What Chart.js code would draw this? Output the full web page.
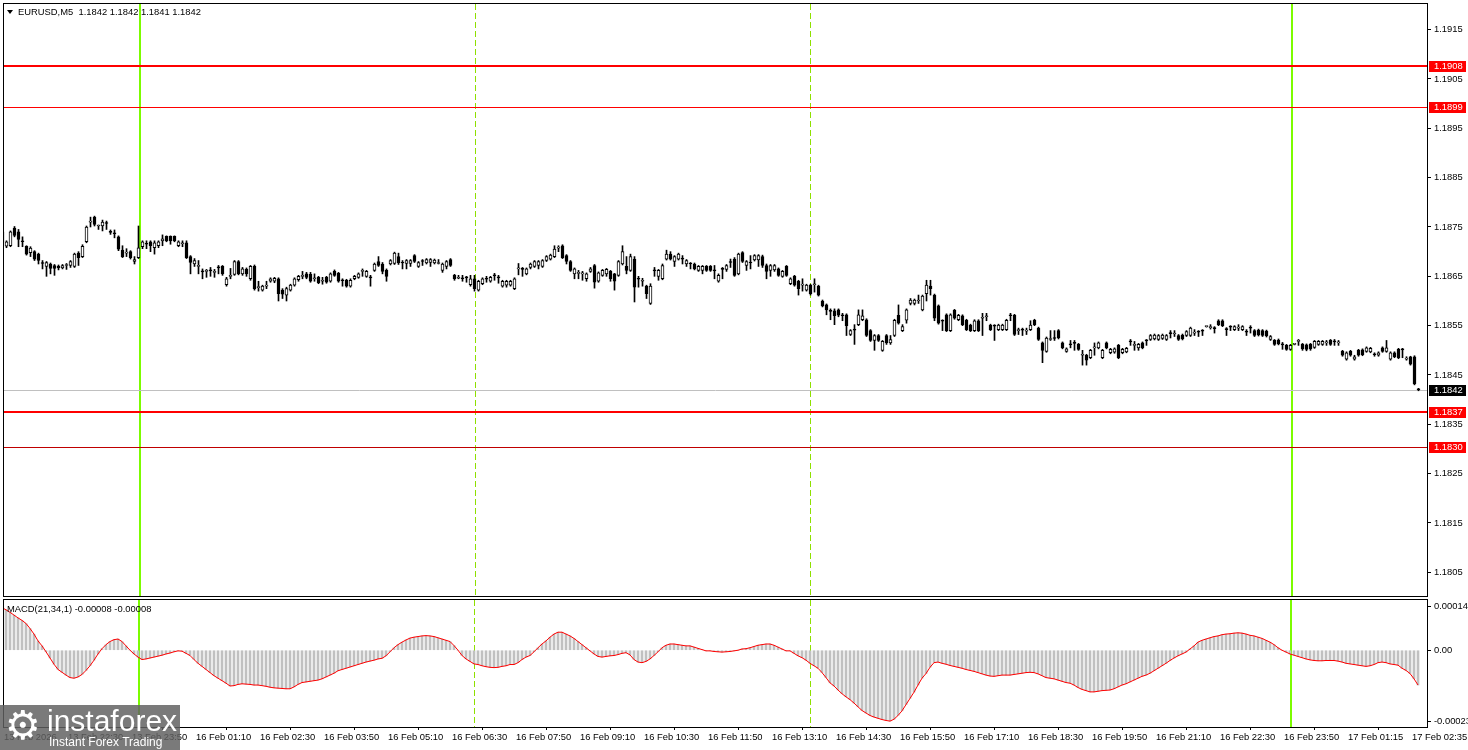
<!DOCTYPE html>
<html>
<head>
<meta charset="utf-8">
<title>EURUSD M5</title>
<script src="https://cdn.jsdelivr.net/npm/chart.js@4.4.1/dist/chart.umd.min.js"></script>
<style>
  html, body { margin: 0; padding: 0; background: #fff; width: 1468px; height: 750px; overflow: hidden; }
  canvas { position: absolute; left: 0; }
  #main { top: 0; }
  #macd { top: 598px; }
  #logo { position: absolute; left: 0; top: 705px; width: 180px; height: 45px; background: rgba(96,96,96,0.84); color: #fff; font-family: "Liberation Sans", Arial, sans-serif; z-index: 5; }
  #logo .gear { position: absolute; left: 5px; top: -6px; font-family: "DejaVu Sans", sans-serif; font-size: 40px; line-height: 52px; }
  #logo .brand { position: absolute; left: 47px; top: 0px; font-size: 30px; line-height: 32px; }
  #logo .tag { position: absolute; left: 49px; top: 31px; font-size: 12px; line-height: 13px; }
</style>
</head>
<body>
<canvas id="main" width="1468" height="600" style="width:1468px;height:600px"></canvas>
<canvas id="macd" width="1468" height="152" style="width:1468px;height:152px"></canvas>
<div id="logo"><span class="gear">⚙</span><span class="brand">instaforex</span><span class="tag">Instant Forex Trading</span></div>
<script>
// EURUSD M5 candles, [open, high, low, close]
const ohlc = [
  [1.18740,1.18745,1.18715,1.18720],[1.18711,1.18722,1.18708,1.18720],[1.18712,1.18742,1.18710,1.18740],[1.18748,1.18751,1.18730,1.18733],[1.18740,1.18745,1.18710,1.18725],
  [1.18722,1.18730,1.18710,1.18720],[1.18711,1.18712,1.18693,1.18695],[1.18698,1.18710,1.18690,1.18707],[1.18700,1.18702,1.18682,1.18685],[1.18695,1.18697,1.18675,1.18682],
  [1.18677,1.18682,1.18665,1.18676],[1.18670,1.18680,1.18650,1.18678],[1.18675,1.18677,1.18655,1.18666],[1.18672,1.18674,1.18652,1.18666],[1.18671,1.18673,1.18663,1.18667],
  [1.18667,1.18674,1.18665,1.18672],[1.18672,1.18676,1.18664,1.18672],[1.18672,1.18682,1.18668,1.18680],[1.18670,1.18697,1.18668,1.18695],[1.18697,1.18700,1.18672,1.18688],
  [1.18690,1.18714,1.18688,1.18711],[1.18720,1.18752,1.18718,1.18750],[1.18760,1.18770,1.18750,1.18762],[1.18770,1.18772,1.18752,1.18755],[1.18752,1.18754,1.18745,1.18753],
  [1.18752,1.18764,1.18742,1.18760],[1.18758,1.18762,1.18745,1.18757],[1.18740,1.18744,1.18735,1.18739],[1.18738,1.18744,1.18728,1.18736],[1.18730,1.18732,1.18702,1.18705],
  [1.18703,1.18712,1.18688,1.18690],[1.18697,1.18706,1.18690,1.18698],[1.18700,1.18702,1.18685,1.18688],[1.18680,1.18690,1.18675,1.18684],[1.18688,1.18752,1.18686,1.18708],
  [1.18710,1.18722,1.18706,1.18720],[1.18717,1.18722,1.18706,1.18715],[1.18720,1.18722,1.18700,1.18712],[1.18708,1.18722,1.18695,1.18718],[1.18712,1.18722,1.18708,1.18720],
  [1.18722,1.18734,1.18712,1.18726],[1.18731,1.18732,1.18720,1.18722],[1.18731,1.18732,1.18715,1.18722],[1.18731,1.18732,1.18720,1.18722],[1.18712,1.18722,1.18710,1.18720],
  [1.18716,1.18722,1.18710,1.18717],[1.18718,1.18722,1.18686,1.18688],[1.18690,1.18692,1.18655,1.18678],[1.18675,1.18686,1.18670,1.18682],[1.18670,1.18682,1.18655,1.18671],
  [1.18660,1.18665,1.18645,1.18659],[1.18660,1.18664,1.18648,1.18661],[1.18662,1.18668,1.18650,1.18661],[1.18658,1.18664,1.18648,1.18660],[1.18668,1.18672,1.18655,1.18667],
  [1.18670,1.18672,1.18652,1.18655],[1.18633,1.18648,1.18630,1.18645],[1.18650,1.18666,1.18645,1.18652],[1.18654,1.18682,1.18652,1.18680],[1.18680,1.18682,1.18653,1.18655],
  [1.18655,1.18668,1.18652,1.18665],[1.18664,1.18667,1.18650,1.18655],[1.18645,1.18672,1.18642,1.18670],[1.18670,1.18673,1.18622,1.18625],[1.18627,1.18640,1.18620,1.18628],
  [1.18622,1.18632,1.18620,1.18630],[1.18630,1.18640,1.18625,1.18632],[1.18640,1.18647,1.18638,1.18645],[1.18640,1.18648,1.18637,1.18646],[1.18645,1.18647,1.18600,1.18615],
  [1.18622,1.18625,1.18605,1.18614],[1.18612,1.18628,1.18600,1.18625],[1.18622,1.18634,1.18620,1.18632],[1.18632,1.18647,1.18630,1.18645],[1.18643,1.18652,1.18640,1.18650],
  [1.18650,1.18660,1.18645,1.18652],[1.18655,1.18658,1.18645,1.18648],[1.18654,1.18658,1.18638,1.18640],[1.18645,1.18655,1.18640,1.18646],[1.18648,1.18650,1.18635,1.18637],
  [1.18640,1.18648,1.18634,1.18641],[1.18648,1.18650,1.18636,1.18638],[1.18640,1.18657,1.18638,1.18655],[1.18660,1.18663,1.18650,1.18652],[1.18656,1.18658,1.18638,1.18640],
  [1.18642,1.18645,1.18630,1.18641],[1.18642,1.18644,1.18628,1.18630],[1.18630,1.18645,1.18628,1.18642],[1.18645,1.18652,1.18643,1.18650],[1.18648,1.18657,1.18646,1.18655],
  [1.18660,1.18665,1.18650,1.18660],[1.18650,1.18662,1.18648,1.18660],[1.18648,1.18652,1.18630,1.18647],[1.18662,1.18677,1.18660,1.18675],[1.18680,1.18690,1.18670,1.18672],
  [1.18675,1.18678,1.18655,1.18660],[1.18662,1.18665,1.18640,1.18650],[1.18675,1.18684,1.18673,1.18682],[1.18676,1.18699,1.18674,1.18697],[1.18690,1.18697,1.18674,1.18677],
  [1.18678,1.18682,1.18665,1.18677],[1.18676,1.18684,1.18665,1.18682],[1.18676,1.18684,1.18670,1.18682],[1.18692,1.18694,1.18678,1.18680],[1.18670,1.18680,1.18668,1.18678],
  [1.18681,1.18684,1.18672,1.18680],[1.18677,1.18686,1.18675,1.18684],[1.18678,1.18686,1.18670,1.18684],[1.18677,1.18685,1.18675,1.18683],[1.18676,1.18684,1.18675,1.18677],
  [1.18662,1.18677,1.18658,1.18675],[1.18670,1.18682,1.18665,1.18680],[1.18684,1.18686,1.18670,1.18672],[1.18652,1.18654,1.18642,1.18645],[1.18646,1.18652,1.18645,1.18647],
  [1.18646,1.18652,1.18640,1.18645],[1.18648,1.18650,1.18638,1.18647],[1.18633,1.18652,1.18630,1.18645],[1.18645,1.18652,1.18620,1.18625],[1.18622,1.18642,1.18620,1.18640],
  [1.18635,1.18647,1.18633,1.18645],[1.18645,1.18650,1.18638,1.18644],[1.18640,1.18650,1.18638,1.18648],[1.18652,1.18656,1.18642,1.18651],[1.18648,1.18652,1.18636,1.18647],
  [1.18630,1.18642,1.18628,1.18640],[1.18632,1.18642,1.18628,1.18640],[1.18632,1.18642,1.18630,1.18640],[1.18625,1.18647,1.18623,1.18645],[1.18665,1.18676,1.18653,1.18666],
  [1.18665,1.18668,1.18650,1.18664],[1.18655,1.18667,1.18653,1.18665],[1.18668,1.18677,1.18665,1.18675],[1.18670,1.18682,1.18668,1.18680],[1.18672,1.18682,1.18665,1.18680],
  [1.18670,1.18684,1.18668,1.18682],[1.18682,1.18692,1.18680,1.18690],[1.18685,1.18695,1.18683,1.18693],[1.18690,1.18712,1.18688,1.18705],[1.18707,1.18712,1.18700,1.18708],
  [1.18712,1.18714,1.18686,1.18688],[1.18692,1.18694,1.18675,1.18680],[1.18680,1.18682,1.18660,1.18662],[1.18655,1.18667,1.18645,1.18665],[1.18656,1.18662,1.18645,1.18657],
  [1.18655,1.18660,1.18642,1.18656],[1.18645,1.18657,1.18640,1.18655],[1.18660,1.18668,1.18658,1.18665],[1.18672,1.18674,1.18626,1.18638],[1.18640,1.18659,1.18638,1.18657],
  [1.18652,1.18664,1.18650,1.18662],[1.18655,1.18666,1.18650,1.18664],[1.18660,1.18662,1.18640,1.18645],[1.18655,1.18656,1.18622,1.18640],[1.18652,1.18682,1.18650,1.18680],
  [1.18675,1.18712,1.18673,1.18700],[1.18670,1.18690,1.18655,1.18662],[1.18662,1.18695,1.18660,1.18690],[1.18685,1.18690,1.18598,1.18628],[1.18645,1.18650,1.18628,1.18644],
  [1.18640,1.18646,1.18630,1.18642],[1.18630,1.18632,1.18605,1.18615],[1.18595,1.18635,1.18593,1.18630],[1.18662,1.18668,1.18650,1.18661],[1.18650,1.18664,1.18642,1.18662],
  [1.18645,1.18675,1.18643,1.18672],[1.18685,1.18703,1.18683,1.18695],[1.18695,1.18700,1.18683,1.18685],[1.18680,1.18692,1.18670,1.18690],[1.18685,1.18697,1.18683,1.18695],
  [1.18686,1.18692,1.18675,1.18685],[1.18675,1.18684,1.18670,1.18682],[1.18676,1.18678,1.18665,1.18675],[1.18675,1.18677,1.18663,1.18665],[1.18662,1.18672,1.18660,1.18670],
  [1.18662,1.18672,1.18655,1.18670],[1.18670,1.18672,1.18660,1.18662],[1.18670,1.18672,1.18660,1.18662],[1.18662,1.18672,1.18645,1.18661],[1.18640,1.18655,1.18638,1.18652],
  [1.18665,1.18668,1.18645,1.18664],[1.18664,1.18674,1.18660,1.18672],[1.18680,1.18685,1.18668,1.18678],[1.18685,1.18688,1.18650,1.18652],[1.18655,1.18697,1.18653,1.18695],
  [1.18698,1.18700,1.18678,1.18680],[1.18672,1.18682,1.18662,1.18680],[1.18678,1.18692,1.18665,1.18677],[1.18683,1.18694,1.18681,1.18692],[1.18683,1.18694,1.18670,1.18692],
  [1.18690,1.18693,1.18668,1.18672],[1.18672,1.18675,1.18645,1.18660],[1.18662,1.18674,1.18650,1.18672],[1.18663,1.18674,1.18660,1.18672],[1.18665,1.18667,1.18650,1.18652],
  [1.18650,1.18662,1.18648,1.18660],[1.18670,1.18672,1.18650,1.18652],[1.18635,1.18647,1.18633,1.18645],[1.18650,1.18652,1.18630,1.18632],[1.18640,1.18642,1.18612,1.18625],
  [1.18632,1.18645,1.18620,1.18634],[1.18622,1.18634,1.18620,1.18632],[1.18632,1.18634,1.18612,1.18615],[1.18633,1.18645,1.18618,1.18635],[1.18630,1.18632,1.18610,1.18612],
  [1.18600,1.18602,1.18588,1.18590],[1.18592,1.18594,1.18572,1.18582],[1.18580,1.18584,1.18562,1.18579],[1.18580,1.18584,1.18552,1.18570],[1.18582,1.18584,1.18568,1.18571],
  [1.18571,1.18575,1.18560,1.18570],[1.18572,1.18574,1.18530,1.18550],[1.18532,1.18542,1.18530,1.18540],[1.18542,1.18552,1.18512,1.18541],[1.18552,1.18582,1.18550,1.18572],
  [1.18562,1.18582,1.18560,1.18570],[1.18562,1.18564,1.18528,1.18530],[1.18540,1.18542,1.18518,1.18520],[1.18520,1.18532,1.18500,1.18530],[1.18530,1.18532,1.18518,1.18520],
  [1.18500,1.18520,1.18498,1.18518],[1.18530,1.18532,1.18512,1.18515],[1.18515,1.18530,1.18512,1.18522],[1.18530,1.18563,1.18528,1.18561],[1.18571,1.18592,1.18553,1.18555],
  [1.18540,1.18552,1.18538,1.18548],[1.18561,1.18584,1.18555,1.18582],[1.18595,1.18605,1.18592,1.18602],[1.18595,1.18604,1.18592,1.18602],[1.18600,1.18612,1.18595,1.18602],
  [1.18582,1.18612,1.18580,1.18610],[1.18615,1.18642,1.18600,1.18632],[1.18630,1.18642,1.18612,1.18625],[1.18612,1.18614,1.18560,1.18565],[1.18590,1.18592,1.18553,1.18555],
  [1.18560,1.18562,1.18540,1.18559],[1.18572,1.18574,1.18538,1.18540],[1.18540,1.18574,1.18538,1.18572],[1.18581,1.18583,1.18563,1.18565],[1.18562,1.18573,1.18560,1.18571],
  [1.18570,1.18572,1.18550,1.18552],[1.18561,1.18563,1.18540,1.18542],[1.18551,1.18553,1.18538,1.18540],[1.18540,1.18562,1.18538,1.18560],[1.18560,1.18562,1.18538,1.18540],
  [1.18565,1.18575,1.18530,1.18566],[1.18568,1.18575,1.18560,1.18570],[1.18551,1.18553,1.18540,1.18542],[1.18550,1.18552,1.18520,1.18549],[1.18542,1.18553,1.18540,1.18551],
  [1.18542,1.18553,1.18540,1.18551],[1.18542,1.18563,1.18540,1.18561],[1.18571,1.18575,1.18560,1.18570],[1.18571,1.18573,1.18530,1.18532],[1.18540,1.18545,1.18532,1.18542],
  [1.18542,1.18545,1.18530,1.18541],[1.18539,1.18545,1.18532,1.18541],[1.18542,1.18560,1.18540,1.18551],[1.18561,1.18563,1.18550,1.18552],[1.18545,1.18547,1.18520,1.18522],
  [1.18515,1.18517,1.18475,1.18500],[1.18498,1.18527,1.18496,1.18525],[1.18522,1.18540,1.18520,1.18524],[1.18525,1.18540,1.18520,1.18524],[1.18540,1.18542,1.18523,1.18525],
  [1.18515,1.18517,1.18503,1.18505],[1.18498,1.18505,1.18496,1.18503],[1.18512,1.18520,1.18505,1.18511],[1.18515,1.18520,1.18500,1.18514],[1.18512,1.18514,1.18500,1.18502],
  [1.18490,1.18500,1.18470,1.18491],[1.18490,1.18492,1.18470,1.18480],[1.18485,1.18502,1.18483,1.18500],[1.18505,1.18515,1.18490,1.18507],[1.18505,1.18517,1.18503,1.18515],
  [1.18485,1.18502,1.18483,1.18500],[1.18515,1.18517,1.18503,1.18505],[1.18495,1.18504,1.18493,1.18502],[1.18496,1.18505,1.18494,1.18503],[1.18510,1.18512,1.18483,1.18485],
  [1.18495,1.18504,1.18493,1.18502],[1.18497,1.18506,1.18495,1.18504],[1.18518,1.18522,1.18510,1.18517],[1.18510,1.18518,1.18500,1.18512],[1.18505,1.18514,1.18500,1.18512],
  [1.18515,1.18517,1.18503,1.18505],[1.18520,1.18522,1.18510,1.18519],[1.18522,1.18532,1.18520,1.18530],[1.18523,1.18533,1.18521,1.18531],[1.18522,1.18532,1.18520,1.18530],
  [1.18524,1.18533,1.18522,1.18531],[1.18522,1.18532,1.18520,1.18530],[1.18535,1.18540,1.18525,1.18534],[1.18533,1.18540,1.18528,1.18535],[1.18530,1.18532,1.18520,1.18522],
  [1.18531,1.18533,1.18521,1.18523],[1.18530,1.18540,1.18528,1.18538],[1.18530,1.18547,1.18528,1.18545],[1.18535,1.18542,1.18530,1.18537],[1.18538,1.18540,1.18528,1.18537],
  [1.18540,1.18542,1.18530,1.18539],[1.18548,1.18549,1.18547,1.18548],[1.18546,1.18552,1.18543,1.18548],[1.18545,1.18548,1.18535,1.18544],[1.18560,1.18562,1.18550,1.18552],
  [1.18560,1.18562,1.18548,1.18550],[1.18543,1.18546,1.18530,1.18542],[1.18548,1.18550,1.18540,1.18547],[1.18542,1.18550,1.18540,1.18548],[1.18545,1.18552,1.18540,1.18547],
  [1.18542,1.18550,1.18540,1.18548],[1.18538,1.18542,1.18530,1.18537],[1.18546,1.18550,1.18535,1.18545],[1.18540,1.18542,1.18528,1.18530],[1.18541,1.18543,1.18529,1.18531],
  [1.18540,1.18542,1.18528,1.18530],[1.18539,1.18541,1.18527,1.18529],[1.18522,1.18530,1.18520,1.18528],[1.18520,1.18522,1.18510,1.18512],[1.18521,1.18523,1.18511,1.18513],
  [1.18512,1.18516,1.18502,1.18511],[1.18510,1.18512,1.18500,1.18502],[1.18502,1.18512,1.18500,1.18510],[1.18512,1.18513,1.18511,1.18512],[1.18518,1.18522,1.18510,1.18520],
  [1.18512,1.18514,1.18500,1.18503],[1.18511,1.18513,1.18499,1.18502],[1.18512,1.18514,1.18500,1.18503],[1.18506,1.18520,1.18504,1.18518],[1.18512,1.18520,1.18510,1.18518],
  [1.18512,1.18520,1.18510,1.18518],[1.18515,1.18520,1.18510,1.18517],[1.18520,1.18522,1.18510,1.18512],[1.18518,1.18522,1.18510,1.18517],[1.18515,1.18520,1.18510,1.18517],
  [1.18498,1.18500,1.18488,1.18490],[1.18482,1.18497,1.18480,1.18495],[1.18498,1.18500,1.18488,1.18490],[1.18482,1.18490,1.18480,1.18487],[1.18500,1.18502,1.18488,1.18490],
  [1.18501,1.18503,1.18489,1.18491],[1.18498,1.18507,1.18496,1.18505],[1.18497,1.18506,1.18495,1.18504],[1.18492,1.18495,1.18488,1.18491],[1.18490,1.18497,1.18488,1.18495],
  [1.18505,1.18507,1.18496,1.18498],[1.18498,1.18520,1.18496,1.18505],[1.18482,1.18497,1.18480,1.18495],[1.18495,1.18497,1.18485,1.18487],[1.18502,1.18504,1.18483,1.18485],
  [1.18502,1.18504,1.18485,1.18501],[1.18482,1.18487,1.18480,1.18484],[1.18487,1.18488,1.18470,1.18472],[1.18487,1.18489,1.18430,1.18432],[1.18421,1.18423,1.18418,1.18420]
];

// MACD(21,34,1) main line; with signal period 1 the signal equals the main line
const macdMain = [
  137e-6,130e-6,122e-6,113e-6,104e-6,96e-6,86e-6,70e-6,52e-6,30e-6,
  14e-6,-5e-6,-25e-6,-45e-6,-62e-6,-71e-6,-80e-6,-88e-6,-90e-6,-86e-6,
  -78e-6,-65e-6,-50e-6,-32e-6,-12e-6,5e-6,18e-6,28e-6,34e-6,36e-6,
  28e-6,14e-6,0,-12e-6,-22e-6,-30e-6,-28e-6,-25e-6,-22e-6,-19e-6,
  -16e-6,-12e-6,-9e-6,-5e-6,-2e-6,-3e-6,-10e-6,-17e-6,-30e-6,-42e-6,
  -52e-6,-62e-6,-72e-6,-82e-6,-90e-6,-98e-6,-106e-6,-115e-6,-114e-6,-110e-6,
  -108e-6,-109e-6,-110e-6,-112e-6,-112e-6,-114e-6,-116e-6,-119e-6,-121e-6,-122e-6,
  -123e-6,-124e-6,-124e-6,-118e-6,-110e-6,-104e-6,-102e-6,-100e-6,-98e-6,-96e-6,
  -92e-6,-86e-6,-80e-6,-74e-6,-66e-6,-62e-6,-58e-6,-54e-6,-50e-6,-46e-6,
  -42e-6,-38e-6,-35e-6,-32e-6,-28e-6,-26e-6,-18e-6,-5e-6,8e-6,18e-6,
  26e-6,33e-6,39e-6,42e-6,44e-6,46e-6,47e-6,46e-6,44e-6,40e-6,
  36e-6,32e-6,28e-6,15e-6,0,-17e-6,-28e-6,-36e-6,-44e-6,-46e-6,
  -50e-6,-53e-6,-55e-6,-56e-6,-55e-6,-52e-6,-50e-6,-46e-6,-46e-6,-40e-6,
  -30e-6,-22e-6,-17e-6,-5e-6,8e-6,20e-6,30e-6,42e-6,52e-6,58e-6,
  58e-6,52e-6,46e-6,38e-6,28e-6,18e-6,8e-6,-2e-6,-12e-6,-20e-6,
  -22e-6,-20e-6,-18e-6,-17e-6,-14e-6,-10e-6,-8e-6,-15e-6,-30e-6,-38e-6,
  -40e-6,-36e-6,-28e-6,-17e-6,-5e-6,8e-6,16e-6,20e-6,20e-6,18e-6,
  16e-6,14e-6,14e-6,10e-6,6e-6,2e-6,-2e-6,-2e-6,-4e-6,-5e-6,
  -6e-6,-5e-6,-4e-6,-2e-6,0,4e-6,5e-6,8e-6,12e-6,16e-6,
  18e-6,20e-6,20e-6,16e-6,10e-6,4e-6,-2e-6,-2e-6,-10e-6,-18e-6,
  -24e-6,-32e-6,-42e-6,-50e-6,-58e-6,-72e-6,-88e-6,-105e-6,-115e-6,-128e-6,
  -140e-6,-150e-6,-159e-6,-170e-6,-182e-6,-194e-6,-202e-6,-210e-6,-215e-6,-219e-6,
  -223e-6,-226e-6,-228e-6,-222e-6,-210e-6,-195e-6,-175e-6,-155e-6,-135e-6,-112e-6,
  -90e-6,-75e-6,-55e-6,-40e-6,-38e-6,-42e-6,-45e-6,-49e-6,-52e-6,-55e-6,
  -58e-6,-62e-6,-65e-6,-68e-6,-72e-6,-76e-6,-80e-6,-83e-6,-84e-6,-82e-6,
  -80e-6,-80e-6,-80e-6,-78e-6,-76e-6,-74e-6,-72e-6,-71e-6,-72e-6,-76e-6,
  -82e-6,-88e-6,-90e-6,-92e-6,-96e-6,-100e-6,-104e-6,-106e-6,-112e-6,-120e-6,
  -126e-6,-130e-6,-134e-6,-134e-6,-132e-6,-130e-6,-129e-6,-128e-6,-124e-6,-118e-6,
  -112e-6,-108e-6,-102e-6,-96e-6,-90e-6,-84e-6,-80e-6,-74e-6,-66e-6,-58e-6,
  -50e-6,-42e-6,-33e-6,-25e-6,-18e-6,-12e-6,-6e-6,4e-6,14e-6,26e-6,
  32e-6,36e-6,40e-6,44e-6,46e-6,50e-6,52e-6,53e-6,55e-6,56e-6,
  55e-6,52e-6,48e-6,46e-6,42e-6,38e-6,32e-6,26e-6,18e-6,8e-6,
  0,-6e-6,-12e-6,-16e-6,-20e-6,-24e-6,-28e-6,-31e-6,-33e-6,-34e-6,
  -34e-6,-33e-6,-33e-6,-33e-6,-35e-6,-38e-6,-42e-6,-44e-6,-46e-6,-48e-6,
  -50e-6,-52e-6,-50e-6,-46e-6,-40e-6,-38e-6,-40e-6,-44e-6,-46e-6,-48e-6,
  -58e-6,-65e-6,-75e-6,-92e-6,-112e-6
];

// time axis labels, one every 16 bars
const timeLabels = ['13 Feb 2026', '13 Feb 22:30', '13 Feb 23:50', '16 Feb 01:10', '16 Feb 02:30', '16 Feb 03:50',
  '16 Feb 05:10', '16 Feb 06:30', '16 Feb 07:50', '16 Feb 09:10', '16 Feb 10:30', '16 Feb 11:50', '16 Feb 13:10',
  '16 Feb 14:30', '16 Feb 15:50', '16 Feb 17:10', '16 Feb 18:30', '16 Feb 19:50', '16 Feb 21:10', '16 Feb 22:30',
  '16 Feb 23:50', '17 Feb 01:15', '17 Feb 02:35'];
const priceTicks = [1.1805, 1.1815, 1.1825, 1.1835, 1.1845, 1.1855, 1.1865, 1.1875, 1.1885, 1.1895, 1.1905, 1.1915];
const macdTicks = [0.00014, 0, -0.00023];

// horizontal levels (labels show 4 digits) and the last bid
const levels = [1.19077, 1.18994, 1.18374, 1.18304];
const lastPrice = 1.1842;
// bars where a new day starts and session marks
const dayStarts = [34, 322];
const sessionMarks = [118, 202];

const titleText = 'EURUSD,M5  1.1842 1.1842 1.1841 1.1842';
const macdText = 'MACD(21,34,1) -0.00008 -0.00008';

const FONT = '"Liberation Sans", Arial, sans-serif';
const FSIZE = 9.4;
Chart.defaults.font.family = FONT;
Chart.defaults.font.size = FSIZE;
Chart.defaults.color = '#000';
Chart.defaults.animation = false;

const levelStyle = [
  { color: '#ff0000', width: 2 },
  { color: '#ff0000', width: 1 },
  { color: '#ff0000', width: 2 },
  { color: '#c00000', width: 1 }
];

// vertical day / session lines and panel frame, used by both panels
const panelPlugin = {
  id: 'panel',
  beforeDatasetsDraw(chart) {
    const { ctx, chartArea: a, scales: { x } } = chart;
    ctx.save();
    ctx.lineWidth = 1;
    ctx.strokeStyle = '#8ee000';
    ctx.setLineDash([6, 3]);
    sessionMarks.forEach(b => {
      const px = Math.round(x.getPixelForValue(b)) + 0.5;
      ctx.beginPath(); ctx.moveTo(px, a.top); ctx.lineTo(px, a.bottom); ctx.stroke();
    });
    ctx.setLineDash([]);
    ctx.fillStyle = '#7cfc00';
    dayStarts.forEach(b => {
      const px = Math.round(x.getPixelForValue(b));
      ctx.fillRect(px, a.top, 2, a.bottom - a.top);
    });
    ctx.restore();
  },
  afterDraw(chart) {
    const { ctx, chartArea: a } = chart;
    ctx.save();
    ctx.strokeStyle = '#000';
    ctx.lineWidth = 1;
    ctx.strokeRect(a.left - 0.5, a.top - 0.5, a.right - a.left + 1, a.bottom - a.top + 1);
    ctx.restore();
  }
};

const mainExtras = {
  id: 'mainExtras',
  beforeDatasetsDraw(chart) {
    const { ctx, chartArea: a, scales: { y } } = chart;
    ctx.save();
    const py = Math.round(y.getPixelForValue(lastPrice)) + 0.5;
    ctx.strokeStyle = '#c0c0c0';
    ctx.lineWidth = 1;
    ctx.beginPath(); ctx.moveTo(a.left, py); ctx.lineTo(a.right, py); ctx.stroke();
    levels.forEach((lv, k) => {
      const st = levelStyle[k];
      const yy = Math.round(y.getPixelForValue(lv));
      ctx.fillStyle = st.color;
      ctx.fillRect(a.left, yy - (st.width > 1 ? 1 : 0), a.right - a.left, st.width);
    });
    ctx.restore();
  },
  afterDraw(chart) {
    const { ctx, chartArea: a, scales: { y } } = chart;
    ctx.save();
    ctx.font = FSIZE + 'px ' + FONT;
    ctx.textBaseline = 'middle';
    const box = (v, bg) => {
      const yy = Math.round(y.getPixelForValue(v));
      ctx.fillStyle = bg;
      ctx.fillRect(a.right + 2, yy - 5, 37, 11);
      ctx.fillStyle = '#fff';
      ctx.fillText(v.toFixed(4), a.right + 7, yy + 0.5);
    };
    levels.forEach(lv => box(lv, '#ff0000'));
    box(lastPrice, '#000');
    // symbol caption
    ctx.fillStyle = '#000';
    ctx.beginPath();
    ctx.moveTo(a.left + 3, a.top + 6); ctx.lineTo(a.left + 9, a.top + 6); ctx.lineTo(a.left + 6, a.top + 10);
    ctx.closePath(); ctx.fill();
    ctx.fillText(titleText, a.left + 14, a.top + 8);
    ctx.restore();
  }
};

const macdExtras = {
  id: 'macdExtras',
  afterDraw(chart) {
    const { ctx, chartArea: a } = chart;
    ctx.save();
    ctx.font = FSIZE + 'px ' + FONT;
    ctx.textBaseline = 'middle';
    ctx.fillStyle = '#000';
    ctx.fillText(macdText, a.left + 3, a.top + 9);
    ctx.restore();
  }
};

const barSpan = 355.75; // bars that fit across the plot at 4 px per bar

new Chart(document.getElementById('main'), {
  type: 'bar',
  data: {
    datasets: [
      {
        label: 'wicks',
        data: ohlc.map((c, i) => ({ x: i, y: [c[2], c[1]] })),
        backgroundColor: '#000',
        barThickness: 1,
        grouped: false,
        minBarLength: 1,
        order: 2
      },
      {
        label: 'bodies',
        data: ohlc.map((c, i) => ({ x: i, y: [c[0], c[3]] })),
        backgroundColor: ohlc.map(c => (c[3] >= c[0] ? '#fff' : '#000')),
        borderColor: '#000',
        borderWidth: 1,
        borderSkipped: false,
        barThickness: 3,
        grouped: false,
        minBarLength: 1,
        order: 1
      }
    ]
  },
  options: {
    responsive: false,
    animation: false,
    devicePixelRatio: 1,
    layout: { padding: { left: 4, top: 4, bottom: 4, right: 0 } },
    plugins: { legend: { display: false }, tooltip: { enabled: false } },
    scales: {
      x: { type: 'linear', offset: false, min: 0.375, max: 0.375 + barSpan, display: false },
      y: {
        position: 'right',
        min: 1.18002,
        max: 1.19202,
        afterBuildTicks: s => { s.ticks = priceTicks.map(v => ({ value: v })); },
        afterFit: s => { s.width = 41; s.paddingTop = 0; s.paddingBottom = 0; },
        ticks: { padding: 3, color: '#000', callback: v => v.toFixed(4) },
        grid: { drawOnChartArea: false, tickLength: 4, tickColor: '#000' },
        border: { display: false }
      }
    }
  },
  plugins: [panelPlugin, mainExtras]
});

new Chart(document.getElementById('macd'), {
  type: 'bar',
  data: {
    datasets: [
      {
        type: 'line',
        label: 'signal',
        data: macdMain.map((v, i) => ({ x: i, y: v })),
        borderColor: '#ff0000',
        borderWidth: 1,
        pointRadius: 0,
        tension: 0,
        order: 1
      },
      {
        label: 'macd',
        data: macdMain.map((v, i) => ({ x: i, y: v })),
        backgroundColor: '#c0c0c0',
        barThickness: 2,
        grouped: false,
        order: 2
      }
    ]
  },
  options: {
    responsive: false,
    animation: false,
    devicePixelRatio: 1,
    layout: { padding: { left: 4, top: 2, bottom: 0, right: 0 } },
    plugins: { legend: { display: false }, tooltip: { enabled: false } },
    scales: {
      x: {
        type: 'linear', offset: false, min: 0.5, max: 0.5 + barSpan,
        afterBuildTicks: s => { s.ticks = timeLabels.map((t, k) => ({ value: k * 16 })); },
        afterFit: s => { s.height = 23; s.paddingLeft = 0; s.paddingRight = 0; },
        ticks: { autoSkip: false, maxRotation: 0, align: 'start', labelOffset: 2, padding: 2, color: '#000',
                 callback: (v, idx) => timeLabels[idx] },
        grid: { drawOnChartArea: false, tickLength: 3, tickColor: '#000' },
        border: { display: false }
      },
      y: {
        position: 'right',
        min: -0.000247,
        max: 0.0001616,
        afterBuildTicks: s => { s.ticks = macdTicks.map(v => ({ value: v })); },
        afterFit: s => { s.width = 41; s.paddingTop = 0; s.paddingBottom = 0; },
        ticks: { padding: 3, color: '#000', callback: v => (v === 0 ? '0.00' : v.toFixed(5)) },
        grid: { drawOnChartArea: false, tickLength: 4, tickColor: '#000' },
        border: { display: false }
      }
    }
  },
  plugins: [panelPlugin, macdExtras]
});
</script>
</body>
</html>
